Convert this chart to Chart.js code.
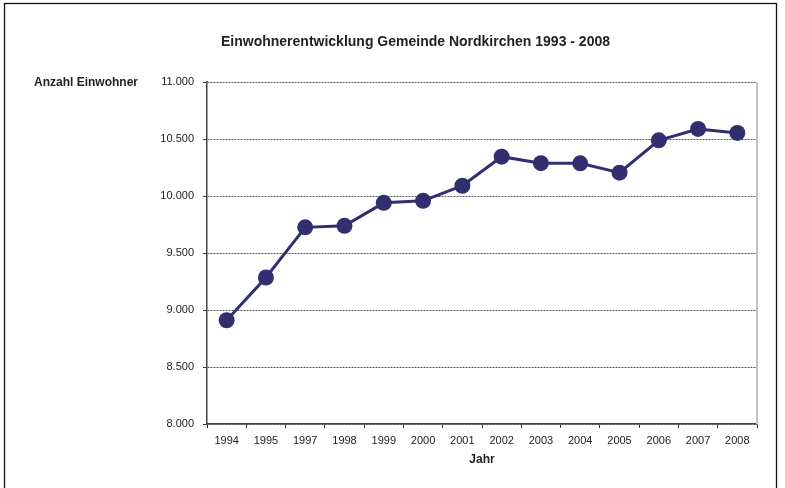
<!DOCTYPE html>
<html>
<head>
<meta charset="utf-8">
<script src="https://cdn.jsdelivr.net/npm/chart.js@4/dist/chart.umd.min.js"></script>
<style>
html,body{margin:0;padding:0;background:#fff;}
canvas{display:block;}
</style>
</head>
<body>
<canvas id="c" width="785" height="488"></canvas>
<script>
const years = ['1994','1995','1997','1998','1999','2000','2001','2002','2003','2004','2005','2006','2007','2008'];
const einwohner = [8910, 9285, 9725, 9738, 9940, 9958, 10090, 10345, 10288, 10287, 10205, 10488, 10588, 10553];
const yMin = 8000, yMax = 11000, yStep = 500;
const chartTitle = 'Einwohnerentwicklung Gemeinde Nordkirchen 1993 - 2008';
const yTitle = 'Anzahl Einwohner';
const xTitle = 'Jahr';

const FONT = '"Liberation Sans", Arial, sans-serif';
function deNum(v){ return String(v).replace(/\B(?=(\d{3})+(?!\d))/g, '.'); }

const decor = {
  id: 'decor',
  beforeDraw(chart){
    const ctx = chart.ctx;
    ctx.save();
    ctx.fillStyle = '#fff';
    ctx.fillRect(0,0,chart.width,chart.height);
    ctx.restore();
  },
  afterDraw(chart){
    const ctx = chart.ctx, a = chart.chartArea;
    ctx.save();
    // outer frame
    ctx.strokeStyle = '#111';
    ctx.lineWidth = 1.3;
    ctx.strokeRect(4.5, 3.5, 772, 500);
    // right plot border
    ctx.strokeStyle = '#c4c4c4';
    ctx.lineWidth = 2;
    ctx.beginPath();
    ctx.moveTo(a.right, a.top);
    ctx.lineTo(a.right, a.bottom);
    ctx.stroke();
    // texts
    ctx.fillStyle = '#222';
    ctx.textBaseline = 'middle';
    ctx.textAlign = 'center';
    ctx.font = 'bold 14px ' + FONT;
    ctx.fillText(chartTitle, 415.5, 42);
    ctx.textAlign = 'left';
    ctx.font = 'bold 12px ' + FONT;
    ctx.fillText(yTitle, 34, 83);
    ctx.textAlign = 'center';
    ctx.fillText(xTitle, (a.left + a.right)/2, 460);
    ctx.restore();
  }
};

new Chart(document.getElementById('c'), {
  type: 'line',
  data: {
    labels: years,
    datasets: [{
      data: einwohner,
      borderColor: '#312f6f',
      backgroundColor: '#312f6f',
      borderWidth: 3,
      pointRadius: 8,
      pointHoverRadius: 8,
      pointBackgroundColor: '#312f6f',
      pointBorderWidth: 0,
      tension: 0,
      fill: false
    }]
  },
  options: {
    responsive: false,
    animation: false,
    devicePixelRatio: 1,
    layout: { padding: { left: 0, top: 82, right: 28, bottom: 0 } },
    plugins: { legend: { display: false }, title: { display: false }, tooltip: { enabled: false } },
    scales: {
      x: {
        type: 'category',
        offset: true,
        grid: { offset: true, drawOnChartArea: false, drawTicks: true, tickLength: 4, tickColor: '#333', tickWidth: 1 },
        border: { display: true, color: '#444', width: 1.5 },
        ticks: { color: '#222', font: { family: FONT, size: 11 }, padding: 6, maxRotation: 0, autoSkip: false },
        afterFit(s){ s.height = 64; }
      },
      y: {
        min: yMin, max: yMax,
        grid: { color: '#555', lineWidth: 1, drawTicks: true, tickLength: 4, tickColor: '#333', tickBorderDash: [] },
        border: { display: true, color: '#444', width: 1.5, dash: [2, 1] },
        ticks: { stepSize: yStep, color: '#222', font: { family: FONT, size: 11 }, padding: 9, callback: v => deNum(v) },
        afterFit(s){ s.width = 207; }
      }
    }
  },
  plugins: [decor]
});
</script>
</body>
</html>
